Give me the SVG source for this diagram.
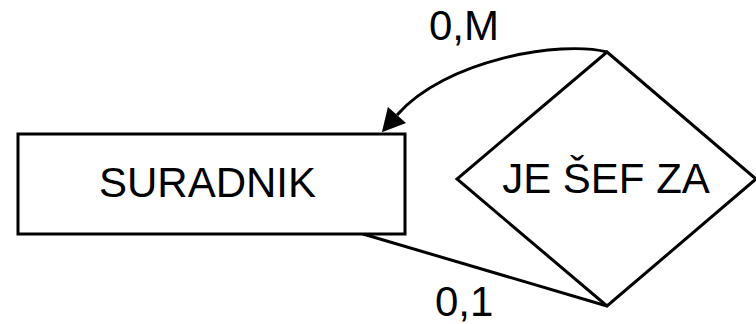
<svg xmlns="http://www.w3.org/2000/svg" width="756" height="324" viewBox="0 0 756 324">
  <style>
    .shape { fill: #ffffff; stroke: #000000; stroke-width: 3; stroke-linejoin: miter; }
    .edge { fill: none; stroke: #000000; stroke-width: 3; }
    .label { font-family: "Liberation Sans", Arial, sans-serif; font-size: 42px; fill: #000000; }
  </style>
  <defs>
    <marker id="arrow" markerUnits="userSpaceOnUse" markerWidth="24" markerHeight="26" refX="0" refY="12" orient="auto" overflow="visible">
      <path d="M0,0 L23,12 L0,24 z" fill="#000000"/>
    </marker>
  </defs>
  <rect width="756" height="324" fill="#ffffff"/>

  <g id="connectors">
    <path class="edge" d="M607,52 C560,40 445,60 397,115" marker-end="url(#arrow)"/>
    <path class="edge" d="M363,234 L607,306"/>
    <text class="label" x="429" y="40">0,M</text>
    <text class="label" x="435" y="316">0,1</text>
  </g>

  <g id="suradnik">
    <rect class="shape" x="18" y="134" width="387" height="100"/>
    <text class="label" x="207.5" y="197" text-anchor="middle">SURADNIK</text>
  </g>

  <g id="je-sef-za">
    <polygon class="shape" points="607,52 756,179 607,306 457,179"/>
    <text class="label" x="606" y="193" text-anchor="middle">JE ŠEF ZA</text>
  </g>
</svg>
